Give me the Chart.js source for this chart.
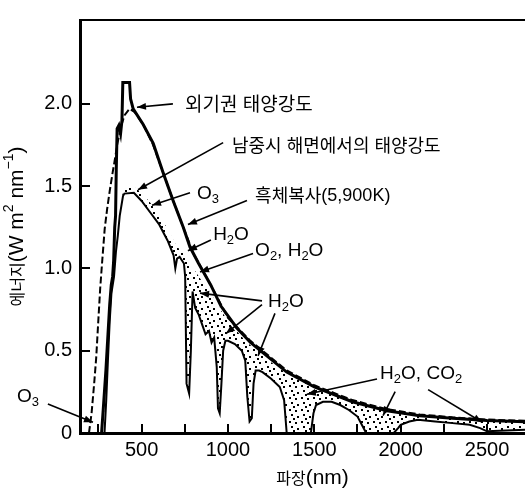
<!DOCTYPE html>
<html>
<head>
<meta charset="utf-8">
<script src="https://cdn.jsdelivr.net/npm/chart.js@4"></script>
<style>
  html, body { margin: 0; padding: 0; background: #fff; }
</style>
</head>
<body>
<canvas id="chart" width="525" height="492"></canvas>
<script>
// 외기권 태양강도 (nm, W m-2 nm-1)
const extraWl  = [268, 280, 293, 305, 315, 324, 332, 338, 344, 349, 353, 358, 368, 378, 386, 391, 430, 436, 451, 509, 567, 625, 683, 741, 780, 830, 900, 960, 1050, 1130, 1200, 1340, 1500, 1720, 1920, 2110, 2300, 2500, 2720];
const extraVal = [0, 0.18, 0.38, 0.6, 0.78, 0.9, 0.95, 1.05, 1.25, 1.32, 1.6, 1.85, 1.87, 1.82, 1.9, 2.13, 2.13, 2.03, 1.97, 1.875, 1.76, 1.58, 1.41, 1.25, 1.13, 1.03, 0.9, 0.77, 0.64, 0.55, 0.49, 0.37, 0.28, 0.19, 0.135, 0.105, 0.09, 0.076, 0.068];

// 흑체복사 5,900K
const bbWl  = [195, 210, 225, 237, 250, 260, 272, 286, 300, 315, 330, 343, 360, 380, 400, 430, 460, 509, 567, 625, 683, 741, 800, 900, 1000, 1130, 1200, 1340, 1500, 1720, 1920, 2110, 2300, 2500, 2720];
const bbVal = [0, 0.12, 0.3, 0.46, 0.7, 0.88, 1.05, 1.24, 1.36, 1.47, 1.57, 1.65, 1.76, 1.86, 1.93, 1.97, 1.95, 1.875, 1.75, 1.58, 1.41, 1.25, 1.09, 0.9, 0.7, 0.56, 0.5, 0.38, 0.29, 0.2, 0.145, 0.113, 0.095, 0.082, 0.074];

// 남중시 해면에서의 태양강도
const seaWl  = [280, 285, 295, 305, 315, 325, 340, 351, 362, 373, 392, 400, 455, 500, 550, 600, 650, 685, 695, 705, 720, 745, 752, 760, 775, 785, 795, 810, 830, 850, 870, 890, 905, 920, 935, 942, 952, 962, 972, 985, 1000, 1040, 1080, 1100, 1112, 1125, 1138, 1148, 1160, 1180, 1200, 1250, 1300, 1325, 1340, 1480, 1495, 1510, 1550, 1600, 1650, 1700, 1750, 1785, 1800, 1960, 1985, 2000, 2050, 2100, 2200, 2300, 2400, 2460, 2500, 2720];
const seaVal = [0, 0, 0.2, 0.45, 0.68, 0.85, 0.95, 1.1, 1.2, 1.32, 1.44, 1.455, 1.46, 1.41, 1.34, 1.27, 1.17, 1.08, 1.0, 1.06, 1.07, 1.03, 0.95, 0.3, 0.24, 0.5, 0.86, 0.76, 0.72, 0.66, 0.6, 0.62, 0.55, 0.58, 0.4, 0.15, 0.12, 0.3, 0.5, 0.56, 0.56, 0.54, 0.5, 0.44, 0.22, 0.07, 0.09, 0.3, 0.38, 0.38, 0.37, 0.33, 0.28, 0.2, 0, 0, 0.12, 0.17, 0.19, 0.19, 0.17, 0.14, 0.1, 0.03, 0, 0, 0.03, 0.05, 0.07, 0.08, 0.07, 0.06, 0.05, 0.03, 0.01, 0.02];

// 기체 흡수 영역(점무늬) 윗경계
const shadeWl  = [280, 295, 310, 325, 345, 365, 385, 400, 450, 500, 550, 600, 650, 700, 750, 800, 850, 900, 950, 1000, 1100, 1200, 1300, 1400, 1500, 1600, 1700, 1800, 1900, 2000, 2100, 2300, 2500, 2720];
const shadeVal = [0, 0.3, 0.62, 0.88, 1.05, 1.28, 1.44, 1.48, 1.5, 1.46, 1.4, 1.33, 1.24, 1.14, 1.08, 1.0, 0.92, 0.85, 0.76, 0.68, 0.56, 0.47, 0.39, 0.33, 0.275, 0.235, 0.195, 0.165, 0.14, 0.12, 0.105, 0.088, 0.075, 0.066];

const xTicks  = [250, 500, 750, 1000, 1250, 1500, 1750, 2000, 2250, 2500];
const xLabels = [500, 1000, 1500, 2000, 2500];
const yTicks  = [0.5, 1.0, 1.5, 2.0];

// 주석: 글자 위치(at), 선의 시작(from)과 끝(to) — 데이터 좌표
const notes = [
  { text: '외기권 태양강도', size: 19, at: [751, 2.0], from: [681, 2.0], to: [473, 1.98] },
  { text: '남중시 해면에서의 태양강도', size: 18, at: [1023, 1.748], from: [972, 1.765], to: [479, 1.478] },
  { text: 'O_3', size: 19, at: [821, 1.455], from: [780, 1.46], to: [560, 1.384] },
  { text: '흑체복사(5,900K)', size: 18, at: [1157, 1.443], from: [1110, 1.413], to: [768, 1.267] },
  { text: 'H_2O', size: 19, at: [914, 1.202], from: [901, 1.173], to: [768, 1.108] },
  { text: 'O_2, H_2O', size: 19, at: [1157, 1.108], from: [1145, 1.091], to: [838, 0.979] },
  { text: 'H_2O', size: 19, at: [1232, 0.798], from: [1197, 0.803], to: [838, 0.85] },
  { text: '', at: null, from: [1197, 0.78], to: [988, 0.604] },
  { text: '', at: null, from: [1272, 0.727], to: [1174, 0.469] },
  { text: 'H_2O, CO_2', size: 19, at: [1881, 0.358], from: [1863, 0.328], to: [1457, 0.235] },
  { text: '', at: null, from: [1968, 0.252], to: [1898, 0.106] },
  { text: '', at: null, from: [2159, 0.264], to: [2472, 0.065] },
  { text: 'O_3', size: 19, at: [-222, 0.223], from: [-43, 0.176], to: [218, 0.065] }
];

const LATIN = '"Liberation Sans", Arial, sans-serif';
const HANGUL = '"Noto Sans CJK KR", sans-serif';

const pts = (xs, ys) => xs.map((x, i) => ({ x: x, y: ys[i] }));

function makeStipple() {
  const c = document.createElement('canvas');
  c.width = 12; c.height = 12;
  const g = c.getContext('2d');
  g.fillStyle = '#000';
  [[1, 1], [7, 2], [3, 6], [9, 8], [5, 10]].forEach(p => g.fillRect(p[0], p[1], 2, 2));
  return g.createPattern(c, 'repeat');
}

// "_x" 아래첨자, "^x" / "^{..}" 위첨자
function runs(str) {
  const out = [];
  let i = 0;
  while (i < str.length) {
    const c = str[i];
    if (c === '_' || c === '^') {
      let t;
      if (str[i + 1] === '{') { const j = str.indexOf('}', i); t = str.slice(i + 2, j); i = j + 1; }
      else { t = str[i + 1]; i += 2; }
      out.push({ t: t, mode: c === '_' ? 'sub' : 'sup' });
    } else {
      let j = i;
      while (j < str.length && str[j] !== '_' && str[j] !== '^') j++;
      // 한글과 라틴 문자를 나눔
      str.slice(i, j).split(/([\uAC00-\uD7A3]+)/).forEach(s => {
        if (s) out.push({ t: s, mode: /[\uAC00-\uD7A3]/.test(s) ? 'kr' : 'n' });
      });
      i = j;
    }
  }
  return out;
}

function drawRich(ctx, str, x, y, size, krSize, align) {
  const rs = runs(str);
  const fontOf = r => r.mode === 'kr' ? `${krSize}px ${HANGUL}`
    : r.mode === 'n' ? `${size}px ${LATIN}` : `${Math.round(size * 0.68)}px ${LATIN}`;
  let w = 0;
  rs.forEach(r => { ctx.font = fontOf(r); r.w = ctx.measureText(r.t).width; w += r.w; });
  let cx = align === 'center' ? x - w / 2 : x;
  ctx.textAlign = 'left';
  ctx.textBaseline = 'middle';
  rs.forEach(r => {
    ctx.font = fontOf(r);
    const dy = r.mode === 'sub' ? size * 0.3 : r.mode === 'sup' ? -size * 0.38 : 0;
    ctx.fillText(r.t, cx, y + dy);
    cx += r.w;
  });
}

function arrow(ctx, x1, y1, x2, y2) {
  ctx.beginPath();
  ctx.moveTo(x1, y1);
  ctx.lineTo(x2, y2);
  ctx.stroke();
  const a = Math.atan2(y2 - y1, x2 - x1), L = 9, W = 3.5;
  ctx.beginPath();
  ctx.moveTo(x2, y2);
  ctx.lineTo(x2 - L * Math.cos(a) + W * Math.sin(a), y2 - L * Math.sin(a) - W * Math.cos(a));
  ctx.lineTo(x2 - L * Math.cos(a) - W * Math.sin(a), y2 - L * Math.sin(a) + W * Math.cos(a));
  ctx.closePath();
  ctx.fill();
}

const frame = {
  id: 'frame',
  afterDraw(chart) {
    const { ctx, chartArea: a, scales: { x, y } } = chart;
    ctx.save();
    ctx.strokeStyle = '#000';
    ctx.fillStyle = '#000';

    // 위 테두리
    ctx.lineWidth = 2;
    ctx.beginPath();
    ctx.moveTo(a.left, a.top);
    ctx.lineTo(a.right, a.top);
    ctx.stroke();

    // 안쪽 눈금
    yTicks.forEach(v => {
      const py = Math.round(y.getPixelForValue(v));
      ctx.beginPath(); ctx.moveTo(a.left, py); ctx.lineTo(a.left + 10, py); ctx.stroke();
    });
    xTicks.forEach(v => {
      const px = Math.round(x.getPixelForValue(v));
      ctx.beginPath(); ctx.moveTo(px, a.bottom); ctx.lineTo(px, a.bottom - 9); ctx.stroke();
    });

    // 주석
    ctx.lineWidth = 1.6;
    notes.forEach(n => {
      arrow(ctx, x.getPixelForValue(n.from[0]), y.getPixelForValue(n.from[1]),
        x.getPixelForValue(n.to[0]), y.getPixelForValue(n.to[1]));
      if (n.at) drawRich(ctx, n.text, x.getPixelForValue(n.at[0]), y.getPixelForValue(n.at[1]), n.size, n.size, 'left');
    });

    // 축 제목
    drawRich(ctx, '파장(nm)', (a.left + a.right) / 2 + 10, 478, 21, 16, 'center');
    ctx.translate(17, (a.top + a.bottom) / 2);
    ctx.rotate(-Math.PI / 2);
    drawRich(ctx, '에너지(W m^2 nm^{−1})', 0, 0, 21, 16, 'center');
    ctx.restore();
  }
};

const tickFont = { family: LATIN, size: 20 };

new Chart(document.getElementById('chart'), {
  type: 'line',
  data: {
    datasets: [
      { label: 'shade', data: pts(shadeWl, shadeVal), borderWidth: 0, borderColor: 'rgba(0,0,0,0)',
        pointRadius: 0, fill: '+1', backgroundColor: makeStipple() },
      { label: 'sea', data: pts(seaWl, seaVal), borderColor: '#000', borderWidth: 2, pointRadius: 0, fill: false },
      { label: 'blackbody', data: pts(bbWl, bbVal), borderColor: '#000', borderWidth: 2,
        borderDash: [7, 3], pointRadius: 0, fill: false },
      { label: 'extra', data: pts(extraWl, extraVal), borderColor: '#000', borderWidth: 3, pointRadius: 0, fill: false }
    ]
  },
  options: {
    responsive: false,
    animation: false,
    layout: { padding: { top: 5, right: 0, left: 0, bottom: 0 } },
    plugins: { legend: { display: false }, tooltip: { enabled: false } },
    scales: {
      x: {
        type: 'linear', min: 143, max: 2720,
        afterFit: s => { s.height = 59; },
        grid: { display: false, drawTicks: false },
        border: { display: true, color: '#000', width: 3 },
        ticks: {
          stepSize: 250, includeBounds: false, autoSkip: false, maxRotation: 0, padding: 5,
          color: '#000', font: tickFont,
          callback: v => xLabels.includes(v) ? String(v) : ''
        }
      },
      y: {
        type: 'linear', min: 0, max: 2.51,
        afterFit: s => { s.width = 80; },
        grid: { display: false, drawTicks: false },
        border: { display: true, color: '#000', width: 3 },
        ticks: {
          stepSize: 0.5, includeBounds: false, padding: 8,
          color: '#000', font: tickFont,
          callback: v => v === 0 ? '0' : (v <= 2 ? v.toFixed(1) : '')
        }
      }
    }
  },
  plugins: [frame]
});
</script>
</body>
</html>
